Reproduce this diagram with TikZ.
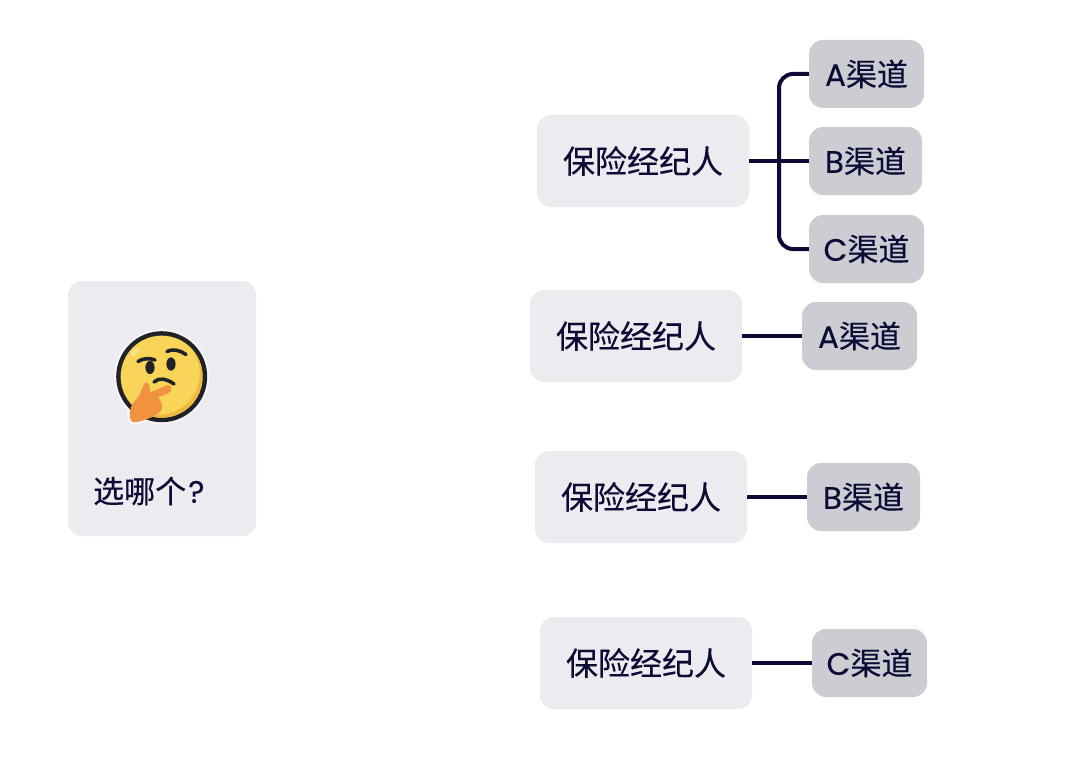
\documentclass[tikz,border=0pt]{standalone}
\usepackage{fontspec}
\setmainfont{Noto Sans CJK SC}[FakeBold=0.25]
\newfontfamily\latinpart{Poppins}[FakeBold=0.2]
\definecolor{ink}{HTML}{0B0B35}
\definecolor{cardbg}{HTML}{EDEBEF}
\definecolor{chanbg}{HTML}{CCCDD3}
\definecolor{faceY}{HTML}{F8D558}
\definecolor{faceD}{HTML}{EFB93F}
\definecolor{faceK}{HTML}{1F2328}
\definecolor{handO}{HTML}{F0923F}
\definecolor{halo}{HTML}{F7F6F9}
\tikzset{
  cardbox/.style={fill=cardbg,rounded corners=14pt,minimum width=212pt,minimum height=92pt,inner sep=0pt,text=ink,font=\fontsize{32pt}{36pt}\selectfont},
  chanbox/.style={fill=chanbg,rounded corners=14pt,minimum width=115pt,minimum height=68pt,inner sep=0pt,text=ink,font=\fontsize{31pt}{35pt}\selectfont},
  link/.style={draw=ink,line width=4pt},
  facefeat/.style={draw=faceK,line width=3.6pt,line cap=round},
}
\newcommand{\handpath}{
  (145,383) .. controls (149,381) and (150,386) .. (150,392)
  .. controls (156,391) and (163,386) .. (168,385)
  .. controls (172,385) and (172,390) .. (170,392)
  .. controls (166,395) and (162,396) .. (158,397)
  .. controls (161,401) and (163,406) .. (162,409)
  .. controls (158,416) and (146,420) .. (137,422)
  .. controls (131,424) and (129,419) .. (130,412)
  .. controls (130,405) and (135,401) .. (139,396)
  .. controls (141,392) and (142,387) .. (145,383) -- cycle}
\begin{document}
\begin{tikzpicture}[x=1pt,y=-1pt]
\useasboundingbox (0,0) rectangle (1080,760);
\fill[white] (0,0) rectangle (1080,760);
% left card
\node[fill=cardbg,rounded corners=14pt,minimum width=188pt,minimum height=255pt,inner sep=0pt] (ask) at (162,408.5) {};
\node[text=ink,font=\fontsize{31pt}{35pt}\selectfont,anchor=west,inner sep=0pt] (asktext) at (93,491) {选哪个{\latinpart\kern2pt ?}};
% emoji
\fill[halo] (161.7,376.7) circle (47.5pt);
\fill[halo,draw=halo,line width=5pt,line join=round] \handpath;
\fill[faceK] (161.7,376.7) circle (45.5pt);
\fill[faceY] (161.7,376.7) circle (41pt);
\begin{scope}
\clip (161.7,376.7) circle (41pt);
\fill[faceD,even odd rule] (161.7,376.7) circle (41pt) (158.7,373.7) circle (41pt);
\end{scope}
\fill[white,opacity=.35,rotate around={45:(135,352)}] (135,352) ellipse (6pt and 2.5pt);
\fill[faceK] (150,367.5) ellipse (4.6pt and 6.6pt);
\fill[faceK] (171,364) ellipse (4.6pt and 6.6pt);
\draw[facefeat] (138,361.5) .. controls (143,358) and (150,358) .. (155,360);
\draw[facefeat] (167,351.5) .. controls (172,348.5) and (180,350) .. (186,354.5);
\draw[facefeat] (154,382) .. controls (159,377) and (167,379) .. (174,384);
\fill[handO] \handpath;
% top group
\node[cardbox] (p1) at (643,161) {保险经纪人};
\node[chanbox] (a1) at (866.5,74) {{\latinpart A}渠道};
\node[chanbox,minimum width=113pt] (b1) at (865.5,161) {{\latinpart B}渠道};
\node[chanbox] (c1) at (866.5,249) {{\latinpart C}渠道};
\coordinate (bus) at (779,161);
\draw[link] (p1.east) -- (b1.west);
\draw[link,rounded corners=14pt] (a1.west) -| (bus) |- (c1.west);
% row 2
\node[cardbox] (p2) at (636,336) {保险经纪人};
\node[chanbox] (a2) at (859.5,336) {{\latinpart A}渠道};
\draw[link] (p2.east) -- (a2.west);
% row 3
\node[cardbox] (p3) at (641,497) {保险经纪人};
\node[chanbox,minimum width=113pt] (b2) at (863.5,497) {{\latinpart B}渠道};
\draw[link] (p3.east) -- (b2.west);
% row 4
\node[cardbox] (p4) at (646,663) {保险经纪人};
\node[chanbox] (c2) at (869.5,663) {{\latinpart C}渠道};
\draw[link] (p4.east) -- (c2.west);
\end{tikzpicture}
\end{document}
